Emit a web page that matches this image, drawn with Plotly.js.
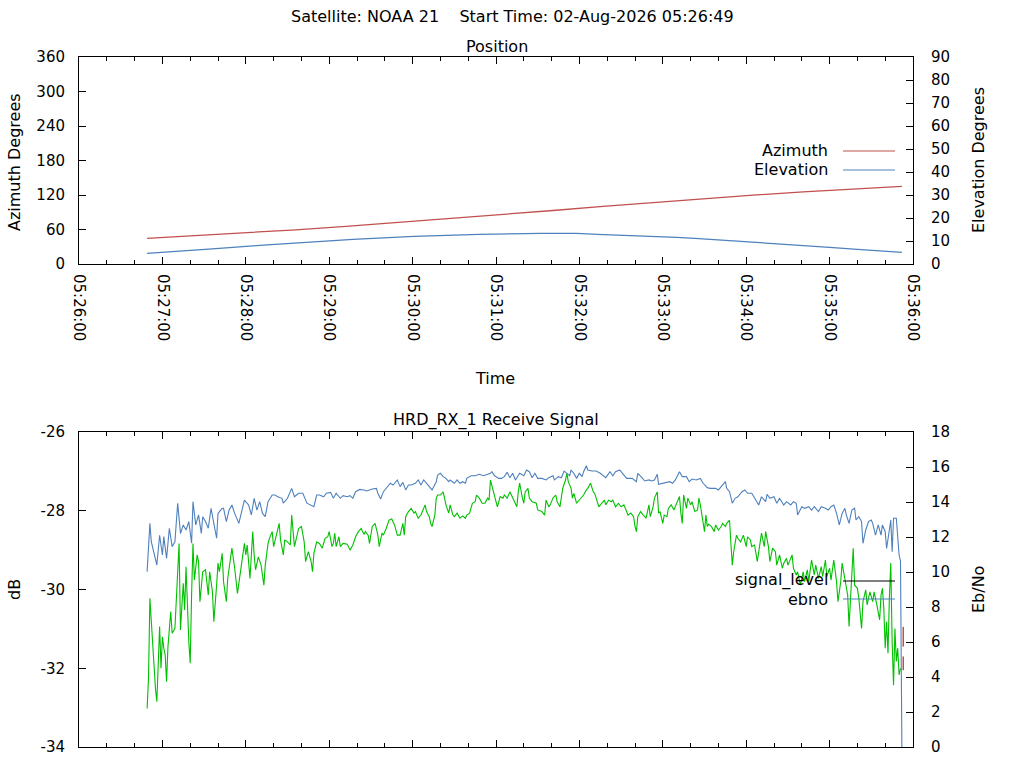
<!DOCTYPE html>
<html>
<head>
<meta charset="utf-8">
<script src="https://cdn.plot.ly/plotly-3.0.1.min.js"></script>
<style>
  html, body { margin: 0; padding: 0; background: #fff; }
  #chart { width: 1024px; height: 768px; }
</style>
</head>
<body>
<div id="chart"></div>
<script>
// pass start, all times are seconds after 05:26:00
var passDate = "2026-08-02";
var axisStart = 0;
var axisEnd = 600;

// Position plot
var azT = [49, 87, 120, 156, 192, 228, 265, 303, 341, 377, 413, 449, 485, 521, 557, 592];
var azV = [44.6, 49.5, 54.0, 59.5, 65.4, 71.8, 78.4, 85.7, 93.0, 100.1, 107.0, 113.6, 119.8, 125.3, 130.2, 135.0];

var elT = [49, 73, 101, 130, 163, 197, 241, 288, 332, 358, 373, 396, 413, 430, 443, 455, 467, 479, 501, 521, 540, 560, 578, 592];
var elV = [4.6, 5.5, 6.8, 8.1, 9.4, 10.7, 12.0, 12.9, 13.3, 13.3, 12.9, 12.46, 12.03, 11.6, 11.16, 10.7, 10.3, 9.86, 9.0, 8.1, 7.25, 6.4, 5.5, 5.07];

// Receive signal plot: ebno (Eb/No, right axis)
var ebnoT = [49, 51, 52, 54, 56, 58, 60, 61, 63, 65, 67, 69, 71, 73, 75, 77, 79, 81, 82, 84, 86, 88, 89, 91, 93, 95, 97, 99, 100, 103,
  104, 106, 108, 110, 112, 115, 117, 119, 122, 124, 126, 128, 130, 132, 134, 136, 139, 141, 143, 146, 147, 150, 153, 155, 158, 161, 164, 166, 169, 171,
  173, 176, 178, 181, 183, 185, 188, 190, 193, 195, 197, 199, 202, 205, 207, 211, 214, 215, 217, 219, 221, 224, 226, 229, 231, 233, 235, 237, 239, 242,
  244, 246, 248, 250, 252, 254, 257, 258, 260, 262, 264, 266, 267, 270, 272, 274, 276, 278, 279, 282, 285, 288, 291, 294, 296, 297, 299, 302, 304, 306,
  308, 310, 312, 314, 317, 320, 322, 324, 326, 328, 330, 333, 336, 338, 341, 342, 345, 347, 349, 351, 353, 354, 356, 358, 360, 362, 363, 365, 366, 369,
  372, 375, 377, 379, 382, 384, 386, 389, 391, 394, 396, 398, 401, 402, 405, 407, 410, 412, 414, 416, 417, 420, 422, 425, 427, 429, 432, 434, 437, 439,
  441, 444, 447, 449, 452, 454, 458, 460, 462, 465, 466, 468, 470, 472, 474, 477, 479, 481, 484, 486, 489, 491, 494, 495, 497, 500, 502, 504, 507, 509,
  512, 514, 516, 517, 520, 522, 525, 527, 529, 532, 534, 537, 539, 541, 543, 545, 547, 549, 551, 552, 554, 556, 558, 559, 561, 563, 564, 566, 568, 570,
  571, 573, 575, 577, 578, 580, 581, 583, 584, 585, 586, 588, 589, 590, 591, 592];
var ebnoV = [10.02, 12.78, 11.73, 10.97, 10.4, 12.1, 10.97, 12.02, 10.78, 12.5, 11.45, 11.73, 13.93, 12.2, 12.69, 12.4, 12.88, 11.64, 14.02, 12.69, 13.26, 12.2, 13.16, 12.88, 12.5, 13.64, 12.69, 11.93, 13.35, 13.64,
  13.64, 12.88, 13.54, 13.83, 13.35, 12.78, 13.45, 14.11, 13.83, 13.26, 14.21, 13.54, 14.02, 13.35, 13.16, 14.02, 14.4, 14.4, 14.3, 14.21, 13.93, 14.21, 14.78, 14.3, 14.5, 14.5, 13.93, 13.83, 13.73, 14.4,
  14.4, 14.3, 14.5, 14.55, 14.21, 14.5, 14.21, 14.36, 14.3, 14.36, 14.21, 14.59, 14.72, 14.69, 14.63, 14.74, 14.78, 14.5, 14.17, 14.59, 14.78, 15.07, 14.97, 15.26, 14.88, 15.12, 14.69, 14.97, 14.97, 15.07,
  15.26, 14.97, 15.26, 15.07, 14.88, 14.69, 15.16, 15.54, 15.64, 15.45, 15.35, 15.16, 15.26, 15.07, 15.26, 15.07, 15.16, 15.07, 15.35, 15.5, 15.5, 15.58, 15.5, 15.58, 15.64, 15.73, 15.5, 15.35, 15.35, 15.45,
  15.7, 15.39, 15.64, 15.26, 15.64, 15.5, 15.83, 15.73, 15.39, 15.64, 15.35, 15.35, 15.26, 15.39, 15.5, 15.26, 15.45, 15.39, 15.77, 15.64, 15.5, 15.83, 15.64, 15.35, 15.64, 15.45, 15.73, 16.07, 15.83, 15.77,
  15.77, 15.64, 15.54, 15.39, 15.73, 15.5, 15.73, 15.83, 15.64, 15.35, 15.35, 15.35, 15.16, 15.64, 15.39, 15.2, 15.26, 15.2, 15.26, 15.58, 15.01, 15.07, 15.07, 15.16, 15.07, 15.26, 15.73, 15.45, 15.45, 15.16,
  15.31, 15.26, 15.35, 15.07, 14.82, 14.78, 14.78, 14.69, 14.88, 15.16, 14.78, 14.59, 13.93, 14.21, 14.3, 14.59, 14.69, 14.5, 14.5, 14.21, 13.83, 14.3, 14.02, 14.44, 14.21, 14.3, 13.93, 14.21, 13.83, 14.02,
  13.83, 14.02, 13.93, 13.26, 13.73, 13.64, 13.73, 13.54, 13.73, 13.45, 13.73, 13.64, 13.54, 13.73, 13.83, 13.35, 12.69, 13.35, 13.64, 13.26, 12.78, 13.54, 13.64, 12.97, 13.16, 12.88, 11.64, 12.4, 12.88, 12.97,
  12.78, 12.11, 12.69, 12.11, 12.69, 12.3, 11.35, 12.4, 12.97, 11.16, 13.07, 13.07, 12.11, 10.97, 10.63, 0];

// Receive signal plot: level in dB (left axis)
var levelT = [49, 50, 51, 52, 53, 55, 56, 57, 58, 59, 60, 61, 62, 63, 64, 66, 67, 69, 70, 71, 72, 73, 74, 75, 76, 77, 79, 80, 81, 82,
  83, 85, 86, 87, 89, 91, 93, 94, 96, 97, 99, 100, 101, 103, 104, 106, 107, 109, 110, 112, 113, 114, 116, 117, 119, 120, 121, 123, 124, 125,
  126, 127, 129, 131, 133, 134, 136, 137, 139, 140, 142, 144, 145, 147, 148, 150, 152, 153, 155, 157, 158, 160, 162, 163, 165, 167, 168, 169, 171, 173,
  175, 177, 179, 180, 182, 183, 184, 185, 187, 188, 190, 193, 195, 197, 199, 201, 203, 205, 206, 208, 209, 211, 213, 215, 216, 218, 219, 221, 223, 225,
  227, 229, 231, 233, 234, 235, 237, 239, 241, 242, 244, 246, 248, 249, 250, 252, 253, 254, 256, 257, 258, 260, 262, 263, 264, 266, 267, 269, 270, 272,
  274, 276, 278, 279, 281, 283, 285, 286, 288, 290, 292, 294, 295, 296, 298, 300, 301, 303, 305, 306, 308, 310, 312, 314, 315, 316, 317, 319, 320, 321,
  323, 324, 326, 329, 330, 333, 335, 336, 338, 339, 341, 343, 344, 346, 348, 350, 351, 352, 354, 355, 356, 358, 360, 362, 363, 365, 366, 368, 370, 371,
  373, 374, 376, 378, 379, 381, 383, 384, 386, 388, 390, 392, 394, 395, 397, 399, 400, 401, 402, 404, 406, 408, 410, 411, 413, 414, 416, 417, 418, 420,
  421, 423, 424, 426, 428, 430, 432, 433, 434, 435, 437, 438, 440, 441, 443, 445, 446, 447, 449, 450, 451, 452, 453, 455, 457, 458, 460, 462, 463, 465,
  466, 468, 469, 470, 471, 473, 474, 476, 478, 480, 481, 483, 484, 486, 488, 489, 491, 493, 494, 496, 497, 499, 501, 502, 504, 506, 507, 509, 510, 512,
  513, 514, 516, 517, 519, 521, 522, 524, 525, 527, 529, 530, 532, 534, 535, 537, 538, 540, 541, 543, 545, 546, 548, 549, 551, 553, 554, 556, 557, 558,
  560, 561, 563, 564, 566, 567, 569, 571, 572, 574, 576, 577, 578, 579, 580, 581, 582, 583, 584, 585, 586, 587, 588, 589, 590, 591];
var levelV = [-33.02, -32.26, -30.22, -30.82, -31.16, -32.51, -32.85, -31.66, -30.94, -32.0, -31.2, -31.49, -31.66, -32.34, -31.45, -30.56, -31.11, -30.99, -30.27, -29.38, -28.83, -31.03, -30.27, -29.84, -30.52, -29.42, -31.33, -31.87, -30.14, -28.83,
  -29.76, -29.12, -29.29, -30.31, -29.55, -29.5, -30.14, -29.55, -30.06, -30.82, -29.89, -29.33, -29.55, -29.08, -29.8, -30.31, -29.72, -29.17, -28.95, -29.46, -29.8, -30.1, -29.59, -29.29, -28.83, -29.12, -28.87, -29.72, -29.12, -28.53,
  -29.12, -29.5, -29.17, -29.38, -29.89, -29.38, -28.83, -28.7, -28.53, -28.91, -28.62, -28.32, -28.74, -29.12, -28.74, -28.79, -28.87, -28.11, -28.91, -28.62, -28.45, -28.4, -28.79, -29.29, -29.04, -29.29, -29.55, -29.08, -28.79, -28.83,
  -28.95, -28.7, -28.66, -28.53, -28.91, -28.83, -28.57, -28.91, -28.66, -28.91, -28.83, -28.85, -29.0, -28.87, -28.66, -28.53, -28.45, -28.6, -28.53, -28.62, -28.83, -28.4, -28.32, -28.62, -28.91, -28.57, -28.62, -28.45, -28.24, -28.21,
  -28.36, -28.62, -28.62, -28.32, -28.62, -28.15, -28.02, -27.94, -28.06, -28.02, -28.19, -28.11, -27.9, -27.85, -28.02, -28.15, -28.32, -28.4, -28.11, -27.68, -27.6, -27.6, -27.52, -27.68, -27.85, -28.06, -27.85, -28.11, -28.15, -28.06,
  -28.19, -28.13, -28.19, -28.11, -28.06, -27.81, -27.77, -27.6, -27.68, -27.81, -27.81, -27.68, -27.73, -27.22, -27.52, -27.77, -27.9, -27.64, -27.68, -27.6, -27.68, -27.52, -27.68, -27.85, -27.9, -27.52, -27.3, -27.68, -27.81, -27.52,
  -27.43, -27.68, -27.77, -27.81, -27.98, -28.02, -28.11, -27.73, -27.9, -27.85, -27.68, -27.6, -27.77, -27.9, -27.43, -27.22, -27.05, -27.26, -27.43, -27.68, -27.56, -27.81, -27.73, -27.64, -27.6, -27.47, -27.43, -27.3, -27.52, -27.56,
  -27.81, -27.9, -27.81, -27.73, -27.85, -27.73, -27.77, -27.73, -27.9, -27.81, -27.9, -27.85, -28.02, -28.11, -28.06, -28.15, -28.4, -28.53, -28.15, -28.02, -28.11, -28.19, -27.85, -28.15, -27.9, -27.68, -27.52, -28.06, -28.02, -28.32,
  -28.11, -28.15, -27.94, -27.85, -27.98, -27.81, -27.64, -28.06, -28.32, -27.6, -27.94, -27.68, -27.85, -27.77, -28.02, -27.98, -27.68, -27.85, -28.28, -28.53, -28.11, -28.4, -28.34, -28.4, -28.53, -28.36, -28.49, -28.4, -28.32, -28.4,
  -28.32, -28.24, -28.83, -29.38, -29.04, -28.62, -28.7, -28.79, -28.62, -28.91, -28.66, -28.74, -28.91, -28.87, -29.29, -29.08, -28.57, -28.91, -28.53, -28.91, -29.29, -28.95, -29.04, -29.38, -29.12, -29.46, -29.33, -29.21, -29.38, -29.21,
  -29.12, -29.46, -29.63, -29.55, -29.89, -29.55, -29.8, -29.5, -29.8, -29.25, -29.63, -29.38, -29.72, -29.42, -29.67, -29.25, -29.67, -29.46, -29.76, -29.25, -29.8, -30.31, -29.8, -29.33, -29.72, -30.14, -30.94, -29.5, -28.95, -29.89,
  -29.97, -30.22, -30.99, -30.31, -30.01, -30.39, -30.06, -30.31, -30.06, -30.39, -30.77, -30.14, -29.97, -30.48, -31.49, -30.82, -31.62, -30.22, -29.33, -31.33, -32.43, -30.99, -31.83, -31.49, -32.17, -32.0];

// short red trace at the very end (dB)
var tailT = [593, 593, 593, 593, 593];
var tailV = [-30.95, -31.45, null, -31.7, -32.05];

// tick labels of the dB axis, written with a plain hyphen like the original
var dbTicks = [-34, -32, -30, -28, -26];
var dbTickText = ["-34", "-32", "-30", "-28", "-26"];

var seriesColors = { azimuth: "#c0504d", elevation: "#4f81bd", ebno: "#4f81bd", level: "#00c000", key: "#000000" };

function toTime(s) {
  var total = 5 * 3600 + 26 * 60 + s;
  var hh = Math.floor(total / 3600);
  var mm = Math.floor((total % 3600) / 60);
  var ss = total % 60;
  function p(n) { return (n < 10 ? "0" : "") + n; }
  return passDate + " " + p(hh) + ":" + p(mm) + ":" + p(ss);
}

// page pixel -> paper fraction (margins l=79, r=111, t=0, b=0)
function px(x) { return (x - 79) / 834; }
function py(y) { return 1 - y / 768; }

var FONT = "DejaVu Sans, sans-serif";
var tickFont = { family: FONT, size: 15, color: "#000" };

function timeAxis(extra) {
  var ax = {
    type: "date",
    range: [toTime(axisStart), toTime(axisEnd)],
    tick0: toTime(axisStart),
    dtick: 60000,
    tickformat: "%H:%M:%S",
    tickangle: 90,
    ticks: "inside",
    ticklen: 7,
    tickcolor: "#000",
    showline: true,
    linecolor: "#000",
    linewidth: 1,
    mirror: "ticks",
    showgrid: false,
    zeroline: false,
    tickfont: tickFont,
    ticklabelstandoff: 6,
    minor: { dtick: 20000, ticks: "inside", ticklen: 4, tickcolor: "#000", showgrid: false },
  };
  for (var k in extra) ax[k] = extra[k];
  return ax;
}

function valueAxis(extra) {
  var ax = {
    ticks: "inside",
    ticklen: 7,
    tickcolor: "#000",
    showline: true,
    linecolor: "#000",
    linewidth: 1,
    showgrid: false,
    zeroline: false,
    tickfont: tickFont,
    ticklabelstandoff: 10,
  };
  for (var k in extra) ax[k] = extra[k];
  return ax;
}

var topDomain = [py(264), py(57)];
var botDomain = [py(747), py(432)];

var traces = [
  { x: azT.map(toTime), y: azV, xaxis: "x", yaxis: "y", type: "scatter", mode: "lines",
    line: { color: seriesColors.azimuth, width: 1.3 }, name: "Azimuth" },
  { x: elT.map(toTime), y: elV, xaxis: "x", yaxis: "y2", type: "scatter", mode: "lines",
    line: { color: seriesColors.elevation, width: 1.3 }, name: "Elevation" },
  { x: ebnoT.map(toTime), y: ebnoV, xaxis: "x2", yaxis: "y4", type: "scatter", mode: "lines",
    line: { color: seriesColors.ebno, width: 1.1 }, name: "ebno" },
  { x: levelT.map(toTime), y: levelV, xaxis: "x2", yaxis: "y3", type: "scatter", mode: "lines",
    line: { color: seriesColors.level, width: 1.1 }, name: "level" },
  { x: tailT.map(toTime), y: tailV, xaxis: "x2", yaxis: "y3", type: "scatter", mode: "lines",
    line: { color: seriesColors.azimuth, width: 1.5 }, name: "signal_level", connectgaps: false },
];

function label(text, x, y, opts) {
  var a = { text: text, x: px(x), y: py(y), xref: "paper", yref: "paper", showarrow: false,
    font: { family: FONT, size: 16, color: "#000" }, xanchor: "center", yanchor: "middle" };
  for (var k in opts) a[k] = opts[k];
  return a;
}

function keyLine(y, color) {
  return { type: "line", xref: "paper", yref: "paper", x0: px(843), x1: px(895), y0: py(y), y1: py(y),
    line: { color: color, width: 1.2 } };
}

var layout = {
  width: 1024,
  height: 768,
  margin: { l: 79, r: 111, t: 0, b: 0 },
  paper_bgcolor: "#fff",
  plot_bgcolor: "#fff",
  showlegend: false,
  font: { family: FONT, size: 16, color: "#000" },
  xaxis: timeAxis({ anchor: "y", domain: [0, 1] }),
  yaxis: valueAxis({ domain: topDomain, anchor: "x", range: [0, 360], dtick: 60, tick0: 0 }),
  yaxis2: valueAxis({ overlaying: "y", anchor: "x", side: "right", range: [0, 90], dtick: 10, tick0: 0, ticklabelstandoff: 14 }),
  xaxis2: timeAxis({ anchor: "y3", domain: [0, 1], showticklabels: false }),
  yaxis3: valueAxis({ domain: botDomain, anchor: "x2", range: [-34, -26], tickmode: "array", tickvals: dbTicks, ticktext: dbTickText }),
  yaxis4: valueAxis({ overlaying: "y3", anchor: "x2", side: "right", range: [0, 18], dtick: 2, tick0: 0, ticklabelstandoff: 14 }),
  annotations: [
    label("Satellite: NOAA 21\u00a0\u00a0\u00a0\u00a0Start Time: 02-Aug-2026 05:26:49", 512, 17),
    label("Position", 497, 46),
    label("HRD_RX_1 Receive Signal", 496, 420),
    label("Azimuth Degrees", 14, 162, { textangle: -90 }),
    label("Elevation Degrees", 978, 160, { textangle: -90 }),
    label("Time", 495, 379),
    label("dB", 14, 590, { textangle: -90 }),
    label("Eb/No", 978, 590, { textangle: -90 }),
    label("Azimuth", 830, 150, { xanchor: "right" }),
    label("Elevation", 830, 170, { xanchor: "right" }),
    label("signal_level", 830, 580, { xanchor: "right" }),
    label("ebno", 830, 599, { xanchor: "right" }),
  ],
  shapes: [
    keyLine(151, seriesColors.azimuth),
    keyLine(170, seriesColors.elevation),
    keyLine(581, seriesColors.key),
    keyLine(599, seriesColors.ebno),
  ],
};

Plotly.newPlot("chart", traces, layout, { staticPlot: true, displayModeBar: false });
</script>
</body>
</html>
